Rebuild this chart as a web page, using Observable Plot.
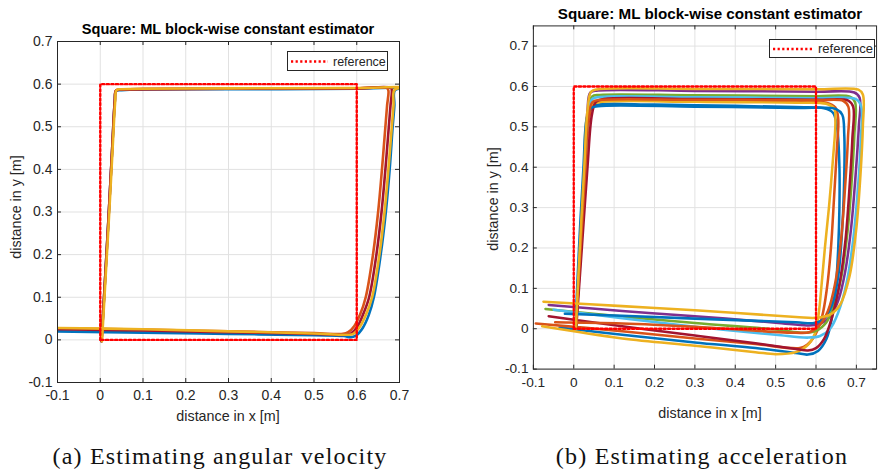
<!DOCTYPE html>
<html>
<head>
<meta charset="utf-8">
<script src="https://cdn.jsdelivr.net/npm/d3@7"></script>
<script src="https://cdn.jsdelivr.net/npm/@observablehq/plot@0.6"></script>
<style>
html,body{margin:0;padding:0;background:#fff;overflow:hidden;}
#wrap{position:relative;width:880px;height:475px;overflow:hidden;font-family:"Liberation Sans",Arial,Helvetica,sans-serif;color:#262626;}
.abs{position:absolute;line-height:1;white-space:nowrap;}
.ctr{transform:translate(-50%,-50%);}
.title{font-weight:bold;color:#000;}
.alab{font-size:14.3px;color:#262626;}
.ylab{transform:translate(-50%,-50%) rotate(-90deg);}
.cap{font-family:"Liberation Serif","Times New Roman",serif;font-size:24px;letter-spacing:1.2px;color:#111;}
.legend{box-sizing:border-box;border:1px solid #262626;background:#fff;}
.legend svg{display:block;}
</style>
</head>
<body>
<div id="wrap">
  <div id="plotA" class="abs" style="left:0;top:0"></div>
  <div id="plotB" class="abs" style="left:440px;top:0"></div>
  <div class="abs ctr title" style="left:228px;top:29px;font-size:14.6px">Square: ML block-wise constant estimator</div>
  <div class="abs ctr title" style="left:710px;top:14px;font-size:15.2px">Square: ML block-wise constant estimator</div>
  <div class="abs ctr alab" style="left:228px;top:416px">distance in x [m]</div>
  <div class="abs ctr alab" style="left:710px;top:413px">distance in x [m]</div>
  <div class="abs ylab alab" style="left:16px;top:207px">distance in y [m]</div>
  <div class="abs ylab alab" style="left:493px;top:199px">distance in y [m]</div>
  <div class="abs ctr cap" style="left:220px;top:456px">(a) Estimating angular velocity</div>
  <div class="abs ctr cap" style="left:702px;top:456px">(b) Estimating acceleration</div>
  <div class="abs legend" style="left:287px;top:51px;width:101px;height:20px">
    <svg width="99" height="18"><line x1="3" x2="40" y1="9.5" y2="9.5" stroke="#ff0000" stroke-width="2.4" stroke-dasharray="2.2,2.4"/><text x="45" y="13.5" font-size="12.5" fill="#262626" font-family="Liberation Sans, Arial, sans-serif">reference</text></svg>
  </div>
  <div class="abs legend" style="left:769px;top:39px;width:106px;height:19px">
    <svg width="104" height="17"><line x1="3" x2="43" y1="9" y2="9" stroke="#ff0000" stroke-width="2.4" stroke-dasharray="2.2,2.4"/><text x="48" y="13" font-size="13" fill="#262626" font-family="Liberation Sans, Arial, sans-serif">reference</text></svg>
  </div>
</div>
<script>
// ---------- tick values ----------
const xTicks = [-0.1, 0, 0.1, 0.2, 0.3, 0.4, 0.5, 0.6, 0.7];
const yTicks = [-0.1, 0, 0.1, 0.2, 0.3, 0.4, 0.5, 0.6, 0.7];

// ---------- reference square ----------
const refX = [0, 0, 0.6, 0.6, 0];
const refY = [0, 0.6, 0.6, 0, 0];

// ---------- (a) estimating angular velocity: trajectories [x, y] ----------
const angBlue = [[0.003,-0.003],[0.010,0.12],[0.019,0.28],[0.028,0.45],[0.034,0.56],[0.037,0.584],[0.05,0.586],[0.3,0.588],[0.6,0.589],[0.71,0.591],[0.689,0.585],[0.688,0.55],[0.684,0.5],[0.677,0.4],[0.668,0.3],[0.656,0.2],[0.640,0.1],[0.628,0.058],[0.614,0.028],[0.598,0.010],[0.585,0.006],[0.57,0.009],[0.5,0.011],[0.3,0.014],[0.1,0.017],[-0.11,0.020]];
const angOrange = [[0.003,-0.003],[0.010,0.12],[0.019,0.28],[0.028,0.45],[0.034,0.56],[0.037,0.585],[0.05,0.587],[0.3,0.589],[0.6,0.590],[0.67,0.591],[0.674,0.585],[0.671,0.55],[0.667,0.5],[0.659,0.4],[0.650,0.3],[0.638,0.2],[0.621,0.1],[0.608,0.06],[0.594,0.032],[0.58,0.018],[0.568,0.014],[0.5,0.016],[0.3,0.020],[0.1,0.024],[-0.11,0.027]];
const angDarkRed = [[0.003,-0.003],[0.010,0.12],[0.019,0.28],[0.028,0.45],[0.034,0.56],[0.037,0.585],[0.05,0.587],[0.3,0.589],[0.6,0.590],[0.68,0.591],[0.682,0.585],[0.679,0.55],[0.675,0.5],[0.667,0.4],[0.658,0.3],[0.646,0.2],[0.629,0.1],[0.615,0.06],[0.601,0.03],[0.587,0.015],[0.575,0.012],[0.5,0.014],[0.3,0.018],[0.1,0.022],[-0.11,0.025]];
const angYellow = [[0.004,-0.003],[0.011,0.12],[0.020,0.28],[0.029,0.45],[0.035,0.56],[0.038,0.586],[0.05,0.588],[0.3,0.590],[0.6,0.591],[0.71,0.592],[0.688,0.586],[0.686,0.55],[0.682,0.5],[0.674,0.4],[0.665,0.3],[0.653,0.2],[0.636,0.1],[0.622,0.06],[0.607,0.03],[0.592,0.014],[0.578,0.012],[0.5,0.015],[0.3,0.020],[0.1,0.025],[-0.11,0.028]];

// ---------- (b) estimating acceleration: trajectories [x, y] ----------
const accBlueA = [[0.004,0.000],[0.014,0.15],[0.022,0.30],[0.030,0.45],[0.035,0.52],[0.042,0.548],[0.06,0.555],[0.2,0.555],[0.4,0.552],[0.55,0.549],[0.62,0.546],[0.642,0.535],[0.652,0.50],[0.658,0.40],[0.658,0.30],[0.655,0.20],[0.649,0.10],[0.640,0.03],[0.626,-0.025],[0.605,-0.055],[0.58,-0.064],[0.55,-0.06],[0.45,-0.048],[0.3,-0.034],[0.12,-0.015],[-0.035,0.003]];
const accOrangeA = [[0.005,0.000],[0.018,0.2],[0.030,0.4],[0.038,0.52],[0.048,0.555],[0.07,0.565],[0.3,0.565],[0.55,0.563],[0.625,0.560],[0.648,0.548],[0.655,0.52],[0.652,0.45],[0.645,0.33],[0.637,0.2],[0.627,0.1],[0.615,0.03],[0.598,-0.015],[0.578,-0.04],[0.56,-0.048],[0.45,-0.038],[0.3,-0.024],[0.12,-0.006],[-0.094,0.013]];
const accYellowA = [[0.006,0.000],[0.016,0.2],[0.026,0.4],[0.032,0.52],[0.045,0.556],[0.07,0.562],[0.3,0.562],[0.55,0.560],[0.625,0.557],[0.645,0.545],[0.648,0.51],[0.642,0.42],[0.632,0.3],[0.622,0.2],[0.613,0.1],[0.607,0.04],[0.598,-0.01],[0.58,-0.04],[0.55,-0.058],[0.5,-0.063],[0.45,-0.058],[0.3,-0.042],[0.12,-0.024],[-0.078,0.006]];
const accPurple = [[0.005,0.000],[0.015,0.2],[0.026,0.4],[0.034,0.54],[0.041,0.585],[0.06,0.590],[0.3,0.589],[0.6,0.587],[0.695,0.585],[0.708,0.572],[0.706,0.5],[0.698,0.38],[0.687,0.25],[0.672,0.14],[0.655,0.07],[0.635,0.03],[0.61,0.012],[0.58,0.008],[0.5,0.015],[0.3,0.031],[0.12,0.044],[-0.062,0.059]];
const accGreen = [[0.005,0.000],[0.016,0.2],[0.028,0.4],[0.036,0.54],[0.045,0.575],[0.065,0.579],[0.3,0.578],[0.6,0.576],[0.685,0.574],[0.697,0.56],[0.695,0.48],[0.688,0.36],[0.678,0.24],[0.663,0.13],[0.645,0.06],[0.625,0.015],[0.6,-0.005],[0.57,-0.01],[0.5,-0.002],[0.3,0.014],[0.12,0.030],[-0.07,0.049]];
const accLightBlue = [[0.005,0.000],[0.017,0.2],[0.029,0.4],[0.037,0.54],[0.046,0.569],[0.065,0.574],[0.3,0.573],[0.6,0.571],[0.70,0.568],[0.712,0.55],[0.711,0.47],[0.704,0.35],[0.692,0.22],[0.675,0.11],[0.655,0.04],[0.635,0.0],[0.61,-0.018],[0.58,-0.022],[0.5,-0.015],[0.3,0.005],[0.12,0.026],[-0.05,0.047]];
const accDarkRed = [[0.006,0.000],[0.020,0.2],[0.034,0.4],[0.045,0.53],[0.055,0.562],[0.075,0.569],[0.3,0.569],[0.6,0.567],[0.68,0.565],[0.692,0.55],[0.690,0.47],[0.683,0.35],[0.673,0.22],[0.658,0.11],[0.64,0.03],[0.62,-0.025],[0.6,-0.048],[0.58,-0.054],[0.55,-0.05],[0.45,-0.036],[0.3,-0.017],[0.12,0.006],[-0.062,0.031]];
const accBlueB = [[0.004,0.000],[0.013,0.2],[0.024,0.4],[0.032,0.52],[0.042,0.546],[0.06,0.551],[0.3,0.550],[0.55,0.547],[0.65,0.544],[0.665,0.53],[0.670,0.48],[0.670,0.38],[0.665,0.25],[0.655,0.13],[0.64,0.06],[0.62,0.025],[0.595,0.014],[0.55,0.016],[0.3,0.025],[0.12,0.032],[-0.022,0.037]];
const accOrangeB = [[0.005,0.000],[0.017,0.2],[0.029,0.4],[0.037,0.53],[0.047,0.562],[0.07,0.567],[0.3,0.567],[0.6,0.566],[0.668,0.564],[0.68,0.55],[0.679,0.47],[0.672,0.35],[0.662,0.22],[0.647,0.11],[0.63,0.045],[0.61,0.01],[0.585,-0.008],[0.55,-0.01],[0.3,0.005],[0.12,0.013],[-0.046,0.016]];
const accYellowB = [[0.005,0.000],[0.015,0.2],[0.026,0.4],[0.034,0.54],[0.043,0.587],[0.06,0.593],[0.3,0.594],[0.6,0.593],[0.705,0.592],[0.716,0.58],[0.716,0.5],[0.710,0.38],[0.700,0.25],[0.683,0.13],[0.66,0.06],[0.635,0.035],[0.6,0.027],[0.55,0.029],[0.3,0.046],[0.12,0.056],[-0.075,0.067]];

const C = {blue:"#0072BD", orange:"#D95319", yellow:"#EDB120", purple:"#7E2F8E", green:"#77AC30", lightblue:"#4DBEEE", darkred:"#A2142F"};

const angSeries = [
  {color:C.blue, pts:angBlue},
  {color:C.orange, pts:angOrange},
  {color:C.darkred, pts:angDarkRed},
  {color:C.yellow, pts:angYellow}
];
const accSeries = [
  {color:C.blue, pts:accBlueA},
  {color:C.orange, pts:accOrangeA},
  {color:C.yellow, pts:accYellowA},
  {color:C.purple, pts:accPurple},
  {color:C.green, pts:accGreen},
  {color:C.lightblue, pts:accLightBlue},
  {color:C.darkred, pts:accDarkRed},
  {color:C.blue, pts:accBlueB},
  {color:C.orange, pts:accOrangeB},
  {color:C.yellow, pts:accYellowB}
];

const fmt = d => d === 0 ? "0" : d.toFixed(1);
const refPts = refX.map((x, i) => [x, refY[i]]);

function chart(o, series) {
  const innerH = o.height - o.marginTop - o.marginBottom;
  const innerW = o.width - o.marginLeft - o.marginRight;
  const tl = 4;
  const marks = [
    Plot.gridX(xTicks, {stroke:"#e1e1e1", strokeOpacity:1, strokeWidth:1}),
    Plot.gridY(yTicks, {stroke:"#e1e1e1", strokeOpacity:1, strokeWidth:1}),
    ...series.map(s => Plot.line(s.pts, {x:d=>d[0], y:d=>d[1], stroke:s.color, strokeWidth:2.6, curve:"catmull-rom", strokeLinejoin:"round", strokeLinecap:"round", clip:true})),
    Plot.line(refPts, {x:d=>d[0], y:d=>d[1], stroke:"#ff0000", strokeWidth:2.4, strokeDasharray:"2.2,2.4", clip:true}),
    Plot.frame({stroke:"#262626", strokeWidth:1}),
    Plot.tickX(xTicks, {x:d=>d, stroke:"#262626", insetTop:innerH - tl}),
    Plot.tickX(xTicks, {x:d=>d, stroke:"#262626", insetBottom:innerH - tl}),
    Plot.tickY(yTicks, {y:d=>d, stroke:"#262626", insetRight:innerW - tl}),
    Plot.tickY(yTicks, {y:d=>d, stroke:"#262626", insetLeft:innerW - tl}),
    Plot.axisX(xTicks, {anchor:"bottom", tickSize:0, tickPadding:8, tickFormat:fmt, label:null, fontSize:14}),
    Plot.axisY(yTicks, {anchor:"left", tickSize:0, tickPadding:5, tickFormat:fmt, label:null, fontSize:14})
  ];
  return Plot.plot({
    width:o.width, height:o.height,
    marginTop:o.marginTop, marginBottom:o.marginBottom, marginLeft:o.marginLeft, marginRight:o.marginRight,
    x:{domain:o.xDomain},
    y:{domain:o.yDomain},
    style:{fontFamily:"Liberation Sans, Arial, Helvetica, sans-serif", fontSize:"14px", color:"#262626", background:"transparent", overflow:"visible"},
    marks
  });
}

document.getElementById("plotA").append(chart({width:440, height:430, marginTop:41, marginBottom:48, marginLeft:57, marginRight:41, xDomain:[-0.1,0.7], yDomain:[-0.1,0.7]}, angSeries));
document.getElementById("plotB").append(chart({width:450, height:430, marginTop:26, marginBottom:53, marginLeft:95, marginRight:4, xDomain:[-0.1,0.75], yDomain:[-0.1,0.75]}, accSeries));
</script>
</body>
</html>
